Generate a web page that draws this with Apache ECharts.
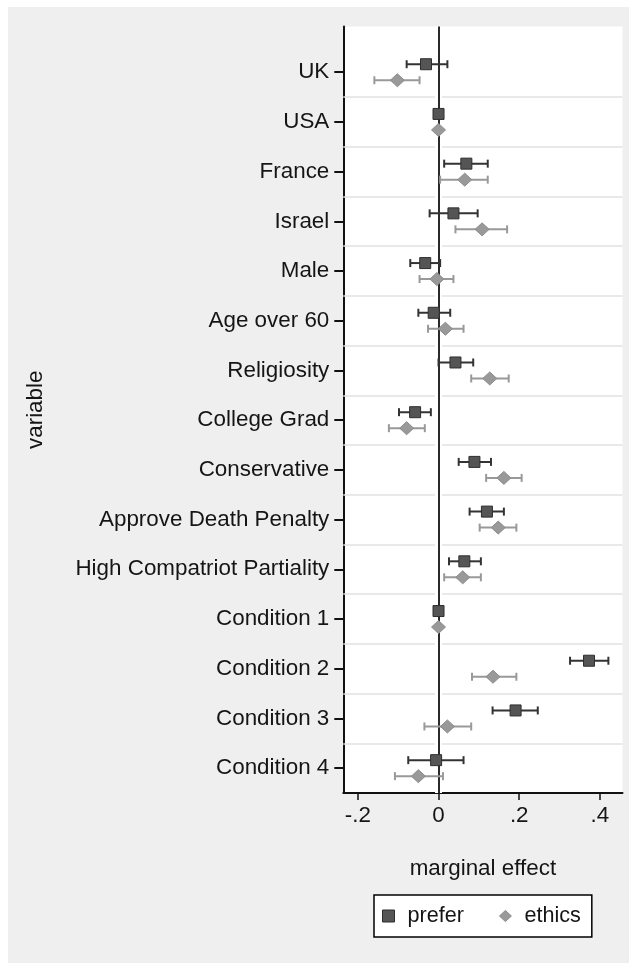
<!DOCTYPE html>
<html>
<head>
<meta charset="utf-8">
<script src="https://cdn.jsdelivr.net/npm/echarts@6/dist/echarts.min.js"></script>
<style>
html,body{margin:0;padding:0;background:#fff;width:629px;height:963px;overflow:hidden;}
#chart{position:absolute;left:8px;top:7px;width:621px;height:956px;}
</style>
</head>
<body>
<div id="chart"></div>
<script>
// ---- data ----
const categories = ['UK','USA','France','Israel','Male','Age over 60','Religiosity','College Grad','Conservative','Approve Death Penalty','High Compatriot Partiality','Condition 1','Condition 2','Condition 3','Condition 4'];
const preferEst = [-0.031, 0, 0.069, 0.037, -0.033, -0.012, 0.042, -0.058, 0.089, 0.120, 0.064, 0, 0.373, 0.191, -0.006];
const preferLo  = [-0.079, null, 0.014, -0.022, -0.070, -0.050, 0.000, -0.098, 0.050, 0.077, 0.026, null, 0.326, 0.134, -0.075];
const preferHi  = [0.022, null, 0.122, 0.097, 0.004, 0.029, 0.086, -0.019, 0.130, 0.162, 0.105, null, 0.421, 0.246, 0.062];
const ethicsEst = [-0.102, 0, 0.065, 0.108, -0.004, 0.017, 0.127, -0.079, 0.162, 0.148, 0.060, 0, 0.135, 0.022, -0.050];
const ethicsLo  = [-0.159, null, 0.004, 0.042, -0.047, -0.026, 0.081, -0.123, 0.118, 0.102, 0.014, null, 0.083, -0.035, -0.108];
const ethicsHi  = [-0.047, null, 0.122, 0.170, 0.037, 0.062, 0.174, -0.034, 0.206, 0.193, 0.105, null, 0.193, 0.081, 0.011];
const xTickValues = [-0.2, 0, 0.2, 0.4];
const xTickLabels = ['-.2', '0', '.2', '.4'];
const seriesNames = ['prefer', 'ethics'];

// ---- build ----
const FONT = "'Liberation Sans', Arial, sans-serif";
const FS = 22.4;
const TXT = '#151515';
const catIdx = categories.map((c, i) => i);
function build(est, lo, hi) {
  return est.map((v, i) => [v, lo[i], hi[i], i]);
}
const styles = {
  prefer: { dy: -8, bar: '#333333', fill: '#555555', stroke: '#2e2e2e', shape: 'square' },
  ethics: { dy: 8, bar: '#999999', fill: '#999999', stroke: '#8c8c8c', shape: 'diamond' }
};
function makeRender(kind) {
  const st = styles[kind];
  return function (params, api) {
    const est = api.value(0), lo = api.value(1), hi = api.value(2), idx = api.value(3);
    const p = api.coord([est, idx]);
    const y = p[1] + st.dy;
    const children = [];
    if (Number.isFinite(lo) && Number.isFinite(hi)) {
      const a = api.coord([lo, idx])[0], b = api.coord([hi, idx])[0];
      const ls = { stroke: st.bar, lineWidth: 2 };
      children.push({ type: 'line', shape: { x1: a, y1: y, x2: b, y2: y }, style: ls });
      children.push({ type: 'line', shape: { x1: a, y1: y - 4, x2: a, y2: y + 4 }, style: ls });
      children.push({ type: 'line', shape: { x1: b, y1: y - 4, x2: b, y2: y + 4 }, style: ls });
    }
    if (st.shape === 'square') {
      children.push({ type: 'rect', shape: { x: p[0] - 5.5, y: y - 5.5, width: 11, height: 11 },
        style: { fill: st.fill, stroke: st.stroke, lineWidth: 1 } });
    } else {
      children.push({ type: 'polygon', shape: { points: [[p[0], y - 6.5], [p[0] + 7, y], [p[0], y + 6.5], [p[0] - 7, y]] },
        style: { fill: st.fill, stroke: st.stroke, lineWidth: 1 } });
    }
    return { type: 'group', children: children };
  };
}

const gridLines = catIdx.slice(0, -1).map(i => ({ yAxis: i + 0.5, lineStyle: { color: '#e2e2e2', width: 1.5, type: 'solid' } }));
const zeroLines = [
  { xAxis: 0, lineStyle: { color: '#ffffff', width: 7, type: 'solid' } },
  { xAxis: 0, lineStyle: { color: '#2a2a2a', width: 2, type: 'solid' } }
];

const chart = echarts.init(document.getElementById('chart'), null, { renderer: 'canvas' });
chart.setOption({
  backgroundColor: '#efefef',
  animation: false,
  textStyle: { fontFamily: FONT },
  grid: { left: 335.3, right: 6.5, top: 19.5, bottom: 170, show: true, backgroundColor: '#ffffff', borderWidth: 0, containLabel: false },
  xAxis: {
    type: 'value', min: -0.236, max: 0.456,
    name: 'marginal effect', nameLocation: 'middle', nameGap: 65,
    nameTextStyle: { fontSize: FS, color: TXT, fontFamily: FONT },
    axisLine: { show: true, onZero: false, lineStyle: { color: '#111', width: 2 } },
    axisTick: { show: true, length: 7, customValues: xTickValues, lineStyle: { color: '#111', width: 1.5 } },
    axisLabel: { customValues: xTickValues, margin: 12, fontSize: FS, color: TXT, fontFamily: FONT,
      formatter: v => { const k = xTickValues.findIndex(t => Math.abs(t - v) < 1e-9); return k >= 0 ? xTickLabels[k] : ''; } },
    splitLine: { show: false }
  },
  yAxis: {
    type: 'value', min: -0.92, max: 14.5, inverse: true,
    name: 'variable', nameLocation: 'middle', nameRotate: 90, nameGap: 296,
    nameTextStyle: { fontSize: FS, color: TXT, fontFamily: FONT },
    axisLine: { show: true, onZero: false, lineStyle: { color: '#111', width: 2 } },
    axisTick: { show: true, length: 9, customValues: catIdx, lineStyle: { color: '#111', width: 2 } },
    axisLabel: { customValues: catIdx, margin: 14, fontSize: FS, color: TXT, fontFamily: FONT,
      formatter: v => categories[Math.round(v)] || '' },
    splitLine: { show: false }
  },
  legend: {
    left: 366, top: 888,
    orient: 'horizontal',
    itemWidth: 12, itemHeight: 12, itemGap: 35,
    padding: [8, 11, 8, 8],
    borderColor: '#000', borderWidth: 1.5, backgroundColor: '#ffffff',
    textStyle: { fontSize: 21.6, color: TXT, fontFamily: FONT, lineHeight: 26, padding: [0, 0, 0, 8] },
    data: [
      { name: 'prefer', icon: 'path://M0,0H10V10H0Z', itemStyle: { color: '#555555', borderColor: '#2e2e2e', borderWidth: 1 } },
      { name: 'ethics', icon: 'path://M7,0L14,6.5L7,13L0,6.5Z', itemStyle: { color: '#999999', borderColor: '#8c8c8c', borderWidth: 1 } }
    ]
  },
  series: [
    {
      name: seriesNames[0], type: 'custom', z: 10, color: '#555555',
      renderItem: makeRender('prefer'),
      encode: { x: [0, 1, 2], y: 3 },
      data: build(preferEst, preferLo, preferHi),
      markLine: { silent: true, z: 1, symbol: 'none', label: { show: false }, animation: false,
        data: gridLines.concat(zeroLines) }
    },
    {
      name: seriesNames[1], type: 'custom', z: 11, color: '#999999',
      renderItem: makeRender('ethics'),
      encode: { x: [0, 1, 2], y: 3 },
      data: build(ethicsEst, ethicsLo, ethicsHi)
    }
  ]
});
</script>
</body>
</html>
